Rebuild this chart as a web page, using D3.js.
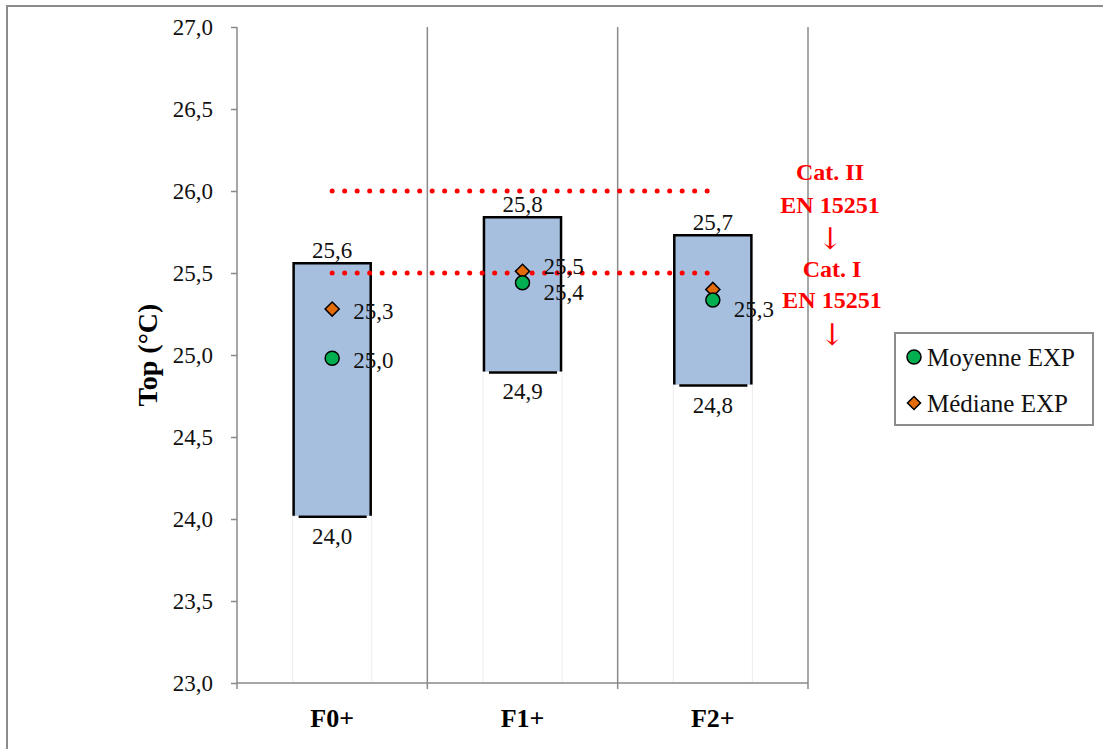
<!DOCTYPE html>
<html>
<head>
<meta charset="utf-8">
<script src="https://cdn.jsdelivr.net/npm/d3@7"></script>
<style>
  html, body { margin: 0; padding: 0; background: #fff; }
  svg { display: block; }
  text { font-family: "Liberation Serif", "Times New Roman", serif; }
</style>
</head>
<body>
<svg id="chart" width="1103" height="749"></svg>
<script>
// ---- Data ----
const categories = ["F0+", "F1+", "F2+"];
const minVals = [24.02, 24.90, 24.82];
const maxVals = [25.56, 25.84, 25.73];
const meanVals = [24.98, 25.44, 25.335];
const medianVals = [25.28, 25.51, 25.40];
const medianLabelShown = [true, true, false];
const catII = [26.0, 26.0, 26.0];
const catI = [25.5, 25.5, 25.5];
const yTicks = [23.0, 23.5, 24.0, 24.5, 25.0, 25.5, 26.0, 26.5, 27.0];
const legendLabels = ["Moyenne EXP", "Médiane EXP"];
const yTitle = "Top (°C)";
const noteLines = ["Cat. II", "EN 15251", "↓", "Cat. I", "EN 15251", "↓"];

// ---- Setup ----
const svg = d3.select("#chart");
const locale = d3.formatLocale({decimal: ",", thousands: " ", grouping: [3], currency: ["", "€"]});
const fmt = locale.format(".1f");

const x = d3.scaleBand().domain(categories).range([237, 808]).padding(0);
const y = d3.scaleLinear().domain([23, 27]).range([683, 27]);
const boxW = x.bandwidth() * 0.405;
const cx = c => x(c) + x.bandwidth() / 2;

// outer border
svg.append("rect").attr("x", 7).attr("y", 6).attr("width", 1200).attr("height", 800)
  .attr("fill", "#fff").attr("stroke", "#8c8c8c").attr("stroke-width", 2);

const gridCol = "#8a8a8a";

// vertical gridlines at category boundaries
const bounds = categories.map(c => x(c) + x.bandwidth());
svg.append("g").selectAll("line").data(bounds).join("line")
  .attr("x1", d => d).attr("x2", d => d)
  .attr("y1", y(27)).attr("y2", y(23))
  .attr("stroke", gridCol).attr("stroke-width", 1.5);

// invisible lower bars (faint outline)
svg.append("g").selectAll("rect").data(categories).join("rect")
  .attr("x", (c) => cx(c) - boxW / 2 - 1)
  .attr("width", boxW + 2)
  .attr("y", (c, i) => y(minVals[i]))
  .attr("height", (c, i) => y(23) - y(minVals[i]))
  .attr("fill", "#fff").attr("stroke", "#ececec").attr("stroke-width", 1);

// boxes
const boxes = svg.append("g");
categories.forEach((c, i) => {
  const x0 = cx(c) - boxW / 2, x1 = cx(c) + boxW / 2;
  const yT = y(maxVals[i]), yB = y(minVals[i]);
  boxes.append("rect").attr("x", x0).attr("y", yT).attr("width", boxW).attr("height", yB - yT)
    .attr("fill", "#a7bfdf");
  boxes.append("path")
    .attr("d", `M${x0},${yB}V${yT}H${x1}V${yB}`)
    .attr("fill", "none").attr("stroke", "#000").attr("stroke-width", 2.5);
  boxes.append("line").attr("x1", x0 + 5).attr("x2", x1 - 4).attr("y1", yB + 1).attr("y2", yB + 1)
    .attr("stroke", "#000").attr("stroke-width", 2.5);
});

// axes
const axisG = svg.append("g");
axisG.append("line").attr("x1", 237).attr("x2", 237).attr("y1", y(27)).attr("y2", y(23))
  .attr("stroke", gridCol).attr("stroke-width", 1.5);
axisG.append("line").attr("x1", 237).attr("x2", 808).attr("y1", y(23)).attr("y2", y(23))
  .attr("stroke", gridCol).attr("stroke-width", 1.5);

const yAxis = d3.axisLeft(y).tickValues(yTicks).tickSize(6).tickPadding(18).tickFormat(fmt);
const yg = svg.append("g").attr("transform", "translate(237,0)").call(yAxis);
yg.attr("font-family", null);
yg.select(".domain").remove();
yg.selectAll(".tick line").attr("stroke", gridCol).attr("stroke-width", 1.5);
yg.selectAll(".tick text").attr("font-size", 23).attr("fill", "#111")
  .style("font-family", "'Liberation Serif', serif").attr("dy", "0.32em");

// x ticks at boundaries
const xTickPos = [237].concat(bounds);
svg.append("g").selectAll("line").data(xTickPos).join("line")
  .attr("x1", d => d).attr("x2", d => d).attr("y1", y(23)).attr("y2", y(23) + 6)
  .attr("stroke", gridCol).attr("stroke-width", 1.5);

svg.append("g").selectAll("text").data(categories).join("text")
  .attr("x", c => cx(c)).attr("y", 727)
  .attr("text-anchor", "middle").attr("font-size", 26).attr("font-weight", "bold")
  .attr("fill", "#000").text(c => c);

// y title
svg.append("text").attr("transform", `translate(157,${y(25)}) rotate(-90)`)
  .attr("text-anchor", "middle").attr("font-size", 28).attr("font-weight", "bold")
  .attr("fill", "#000").text(yTitle);

// red dotted reference lines
[catII, catI].forEach(arr => {
  svg.append("path")
    .attr("d", d3.line().x((d, i) => cx(categories[i])).y(d => y(d))(arr))
    .attr("fill", "none").attr("stroke", "#ff0000").attr("stroke-width", 5)
    .attr("stroke-linecap", "round").attr("stroke-dasharray", "0 12.5");
});

// box labels (max above, min below)
const lbl = svg.append("g").attr("font-size", 23).attr("fill", "#111");
categories.forEach((c, i) => {
  lbl.append("text").attr("x", cx(c)).attr("y", y(maxVals[i]) - 5)
    .attr("text-anchor", "middle").text(fmt(maxVals[i]));
  lbl.append("text").attr("x", cx(c)).attr("y", y(minVals[i]) + 28)
    .attr("text-anchor", "middle").text(fmt(minVals[i]));
});

// markers
categories.forEach((c, i) => {
  svg.append("path").attr("d", d3.symbol().type(d3.symbolSquare).size(100)())
    .attr("transform", `translate(${cx(c)},${y(medianVals[i])}) rotate(45)`)
    .attr("fill", "#e36c09").attr("stroke", "#000").attr("stroke-width", 1.5);
  svg.append("circle").attr("cx", cx(c)).attr("cy", y(meanVals[i])).attr("r", 7)
    .attr("fill", "#00b050").attr("stroke", "#000").attr("stroke-width", 1.5);
});

// mean / median labels
categories.forEach((c, i) => {
  const ym = y(meanVals[i]), yd = y(medianVals[i]);
  const close = Math.abs(ym - yd) < 20;
  const shift = close ? 7 : 0;
  lbl.append("text").attr("x", cx(c) + 21).attr("y", ym + shift + 2)
    .attr("dy", "0.35em").text(fmt(meanVals[i]));
  if (medianLabelShown[i]) {
    lbl.append("text").attr("x", cx(c) + 21).attr("y", yd - shift + 2)
      .attr("dy", "0.35em").text(fmt(medianVals[i]));
  }
});

// red notes
const noteY = [172, 205, 238, 269, 300, 334];
svg.append("g").selectAll("text").data(noteLines).join("text")
  .attr("x", (d, i) => i < 3 ? 830 : 832)
  .attr("y", (d, i) => noteY[i]).attr("dy", "0.35em")
  .attr("text-anchor", "middle")
  .attr("font-size", d => d === "↓" ? 30 : 24)
  .attr("font-weight", d => d === "↓" ? "normal" : "bold")
  .style("font-family", d => d === "↓" ? "'DejaVu Serif', serif" : null)
  .attr("fill", "#ff0000").text(d => d);

// legend
const lg = svg.append("g");
lg.append("rect").attr("x", 895).attr("y", 333).attr("width", 198).attr("height", 92)
  .attr("fill", "#fff").attr("stroke", "#8c8c8c").attr("stroke-width", 2);
lg.append("circle").attr("cx", 914).attr("cy", 357).attr("r", 7)
  .attr("fill", "#00b050").attr("stroke", "#000").attr("stroke-width", 1.5);
lg.append("path").attr("d", d3.symbol().type(d3.symbolSquare).size(85)())
  .attr("transform", "translate(914,403) rotate(45)")
  .attr("fill", "#e36c09").attr("stroke", "#000").attr("stroke-width", 1.5);
lg.selectAll("text").data(legendLabels).join("text")
  .attr("x", 927).attr("y", (d, i) => i === 0 ? 357 : 403).attr("dy", "0.35em")
  .attr("font-size", 25).attr("fill", "#111").text(d => d);
</script>
</body>
</html>
